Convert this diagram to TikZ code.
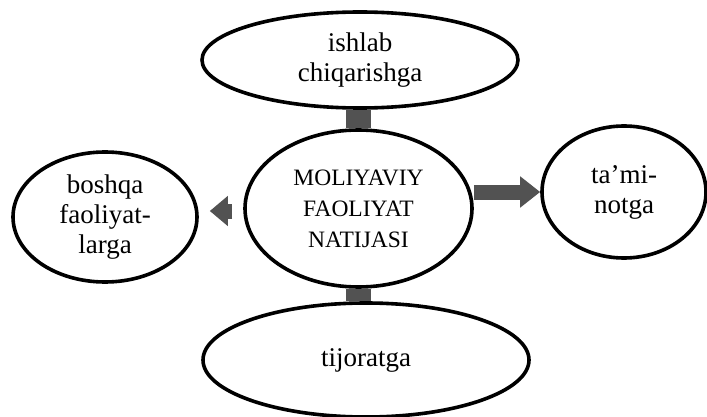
\documentclass[tikz,border=0pt]{standalone}
\usepackage{fontspec}
\setmainfont{Liberation Serif}
\usetikzlibrary{shapes.geometric,arrows.meta}
\begin{document}
\begin{tikzpicture}[x=1pt,y=-1pt,
  oval/.style={ellipse,draw=black,line width=3.6pt,inner sep=0pt,align=center,
    font=\fontsize{27}{30}\selectfont},
  bar/.style={draw=black!68,line width=#1},
  blockarrow/.style={draw=black!68,line width=15pt,
    -{Triangle[width=29pt,length=18pt]}}]
\useasboundingbox (0,0) rectangle (707,417);
\node[oval,minimum width=316pt,minimum height=96pt] (top) at (360,60) {ishlab\\chiqarishga};
\node[oval,minimum width=227pt,minimum height=157pt,
  font=\fontsize{23.5}{31}\selectfont] (c) at (358.5,208.5) {MOLIYAVIY\\FAOLIYAT\\NATIJASI};
\node[oval,minimum width=184pt,minimum height=130pt] (l) at (105,217) {boshqa\\faoliyat-\\larga};
\node[oval,minimum width=164pt,minimum height=132pt] (r) at (624,192) {ta'mi-\\notga};
\node[oval,minimum width=326pt,minimum height=114pt] (b) at (366,360) {tijoratga};
% connectors
\draw[bar=25pt] (c.north) -- (c.north |- top.south);
\draw[bar=25pt] (c.south) -- (c.south |- b.north);
\draw[blockarrow,shorten <=11pt,shorten >=11pt] (c.west |- 0,211) -- (l.east |- 0,211);
\draw[blockarrow,-{Triangle[width=30pt,length=20pt]}] (c.east |- r.west) -- (r.west);
\end{tikzpicture}
\end{document}
